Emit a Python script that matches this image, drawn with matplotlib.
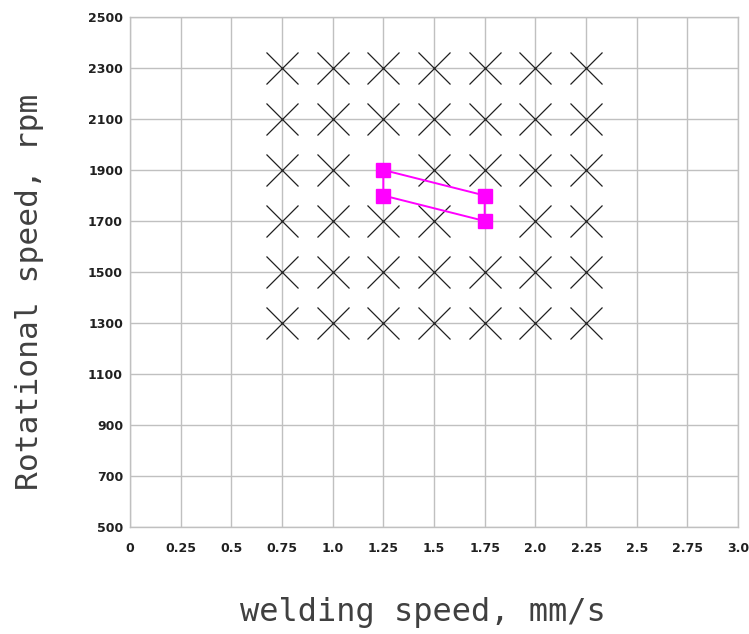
import numpy as np
import matplotlib
matplotlib.use("Agg")
import matplotlib.pyplot as plt

# trial grid (X marks)
trial_ws = [0.75, 1.0, 1.25, 1.5, 1.75, 2.0, 2.25]        # mm/s
trial_rpm = [1300, 1500, 1700, 1900, 2100, 2300]           # rpm
skipped = [(1.25, 1900), (1.75, 1700)]                     # no X drawn here

# optimum window (magenta polygon)
window_ws = [1.25, 1.25, 1.75, 1.75, 1.25]
window_rpm = [1800, 1900, 1800, 1700, 1800]

x_ticks = [0, 0.25, 0.5, 0.75, 1.0, 1.25, 1.5, 1.75, 2.0, 2.25, 2.5, 2.75, 3.0]
x_labels = ["0", "0.25", "0.5", "0.75", "1.0", "1.25", "1.5", "1.75", "2.0",
            "2.25", "2.5", "2.75", "3.0"]
y_ticks = [500, 700, 900, 1100, 1300, 1500, 1700, 1900, 2100, 2300, 2500]

fig = plt.figure(figsize=(7.49, 6.34), dpi=100)
ax = fig.add_axes([130 / 749, 1 - 527 / 634, 608 / 749, 510 / 634])

xs, ys = [], []
for r in trial_rpm:
    for w in trial_ws:
        if (w, r) in skipped:
            continue
        xs.append(w); ys.append(r)
ax.plot(xs, ys, "x", color="#202020", markersize=23, markeredgewidth=0.9, zorder=3)

ax.plot(window_ws, window_rpm, "-", color="#ff00ff", lw=1.4, zorder=4)
ax.plot(window_ws[:4], window_rpm[:4], "s", color="#ff00ff", markersize=10, zorder=5)

ax.set_xlim(0, 3.0)
ax.set_ylim(500, 2500)
ax.set_xticks(x_ticks)
ax.set_xticklabels(x_labels)
ax.set_yticks(y_ticks)
ax.grid(True, color="#c0c0c0", lw=1.0)
ax.set_axisbelow(True)
for s in ax.spines.values():
    s.set_color("#c0c0c0")
    s.set_linewidth(1.0)
ax.tick_params(axis="y", length=0, labelsize=9, pad=5)
ax.tick_params(axis="x", length=0, labelsize=9, pad=11)
for lab in ax.get_xticklabels() + ax.get_yticklabels():
    lab.set_fontweight("bold")
    lab.set_color("#202020")

mono = "DejaVu Sans Mono"
fig.text(423 / 749, 1 - 613 / 634, "welding speed, mm/s", ha="center", va="center",
         fontsize=23, color="#404040", family=mono)
fig.text(30 / 749, 1 - 292 / 634, "Rotational speed, rpm", ha="center", va="center",
         rotation=90, fontsize=22.5, color="#404040", family=mono)

fig.savefig("out.png", dpi=100)
